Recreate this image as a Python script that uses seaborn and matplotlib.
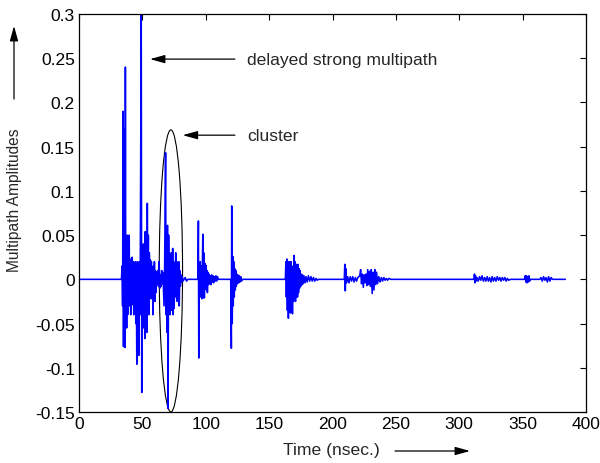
import numpy as np
import pandas as pd
import matplotlib
matplotlib.use("Agg")
import matplotlib.pyplot as plt
import seaborn as sns
from matplotlib.patches import Ellipse

# ---------------- data ----------------
# first arrivals + strong delayed multipath (ns, amplitude)
c1_t = [0.0, 33.5, 34.0, 34.4, 34.8, 35.1, 35.4, 35.7, 36.0, 36.3, 36.6, 36.9, 37.2, 37.6, 38.0,
        38.4, 38.8, 39.2, 39.6, 40.0, 40.4, 40.8, 41.2, 41.6, 42.0, 42.4, 42.8, 43.2, 43.6,
        44.0, 44.4, 44.8, 45.2, 45.6, 46.0, 46.4, 46.8, 47.2, 47.6, 48.2, 49.1, 49.5, 49.9,
        50.3, 50.7, 51.1, 51.5, 51.9, 52.3, 52.7, 53.1, 53.5, 53.9, 54.3, 54.7, 55.1, 55.5,
        55.9, 56.3, 56.7, 57.1, 57.5, 57.9, 58.3, 58.7, 59.1, 59.5, 59.9, 60.3, 60.7, 61.2,
        61.7, 62.2, 62.7, 63.2, 63.7, 64.2, 64.7, 65.2, 65.7, 66.2]
c1_a = [0.0, 0.0, 0.015, -0.03, 0.19, -0.076, 0.17, -0.02, 0.16, -0.077, 0.24, -0.05, 0.03, -0.055, 0.05,
        -0.04, 0.02, -0.02, 0.05, -0.03, 0.023, -0.04, 0.02, -0.029, 0.025, -0.015, 0.02, -0.04, 0.015,
        -0.025, 0.02, -0.05, 0.01, -0.096, 0.02, -0.07, 0.015, -0.086, 0.02, -0.04, 0.30, -0.128, 0.02,
        -0.03, 0.04, -0.055, 0.03, -0.067, 0.054, -0.03, 0.045, -0.06, 0.086, -0.02, 0.05, -0.04, 0.03,
        -0.02, 0.022, -0.022, 0.02, -0.018, 0.01, -0.04, 0.015, -0.01, 0.02, -0.025, 0.01, -0.015, 0.008,
        -0.005, 0.01, -0.008, 0.02, -0.01, 0.005, -0.008, 0.01, -0.005, 0.008]
# the cluster (inside the ellipse)
c2_t = [67.1, 67.6, 68.3, 68.7, 69.1, 69.5, 69.8, 70.3, 70.7, 71.1, 71.5, 71.9, 72.3, 72.7,
        73.1, 73.5, 73.9, 74.3, 74.7, 75.1, 75.5, 75.9, 76.3, 76.7, 77.1, 77.5, 77.9, 78.3,
        78.7, 79.1, 79.5, 80.0, 80.5, 81.0, 81.5, 82.0, 83.8, 84.8, 85.8]
c2_a = [-0.03, 0.02, 0.143, -0.04, 0.03, -0.06, 0.061, -0.146, 0.05, -0.03, 0.03, -0.04, 0.02, -0.035,
        0.03, -0.02, 0.035, -0.04, 0.02, -0.033, 0.016, -0.02, 0.03, -0.015, 0.02, -0.025, 0.015, -0.01,
        0.02, -0.03, 0.01, -0.008, 0.005, -0.003, 0.003, -0.002, 0.002, -0.002, 0.0]
# arrivals near 95 ns
c3_t = [93.8, 94.2, 94.5, 94.9, 95.3, 95.7, 96.1, 96.5, 96.9, 97.3, 97.7, 98.1, 98.5, 98.9,
        99.3, 99.7, 100.1, 100.5, 100.9, 101.3, 101.7, 102.1, 102.6, 103.1, 103.6, 104.1, 104.6,
        105.1, 105.7, 106.2, 106.8, 107.4, 108.0, 108.6, 109.2, 110.2]
c3_a = [0.0, 0.066, -0.089, 0.01, -0.01, 0.02, -0.02, 0.015, -0.022, 0.01, 0.051, -0.021, 0.03, -0.021,
        0.018, -0.01, 0.016, -0.012, 0.01, -0.015, 0.008, -0.006, 0.006, -0.005, 0.004, -0.006, 0.005,
        -0.003, 0.004, -0.004, 0.003, -0.002, 0.004, -0.002, 0.003, 0.0]
# arrivals near 120 ns
c4_t = [119.7, 120.2, 120.5, 120.9, 121.3, 121.7, 122.1, 122.5, 122.9, 123.3, 123.7, 124.1,
        124.5, 124.9, 125.4, 125.9, 126.4, 127.0, 127.6, 128.2, 129.2]
c4_a = [0.0, -0.078, 0.083, -0.05, 0.026, -0.03, 0.02, -0.02, 0.012, -0.012, 0.01, -0.008,
        0.006, -0.005, 0.005, -0.004, 0.004, -0.003, 0.003, -0.002, 0.0]
# cluster near 165-190 ns
c5_t = [162.8, 163.2, 163.6, 164.0, 164.4, 164.8, 165.2, 165.6, 166.0, 166.4, 166.8, 167.2,
        167.6, 168.0, 168.4, 168.8, 169.2, 169.6, 170.0, 170.4, 170.8, 171.2, 171.6, 172.0,
        172.4, 172.8, 173.2, 173.6, 174.0, 174.4, 174.8, 175.3, 175.8, 176.3, 176.8, 177.5,
        178.3, 179.1, 180.0, 181.0, 182.0, 183.0, 184.0, 185.0, 186.0, 187.0, 188.0, 189.0]
c5_a = [0.0, 0.02, -0.02, 0.023, -0.035, 0.018, -0.044, 0.02, -0.03, 0.015, -0.038, 0.02,
        -0.015, 0.01, -0.039, 0.015, -0.025, 0.027, -0.02, 0.02, -0.025, 0.017, -0.02, 0.015,
        -0.02, 0.017, -0.015, 0.012, -0.01, 0.01, -0.008, 0.006, -0.006, 0.005, -0.005, 0.004,
        -0.004, 0.003, -0.003, 0.004, -0.002, 0.003, -0.002, 0.002, -0.002, 0.001, -0.001, 0.0]
# arrivals near 210-245 ns
c6_t = [209.3, 209.7, 210.1, 210.5, 211.0, 212.0, 213.0, 214.0, 215.0, 216.0, 217.0, 218.0,
        219.0, 220.0, 221.5, 222.2, 222.9, 223.6, 224.3, 225.0, 225.7, 226.4, 227.1, 227.8,
        228.5, 229.2, 229.9, 230.6, 231.3, 232.0, 232.7, 233.4, 234.1, 234.8, 235.5, 236.5,
        237.5, 238.5, 239.5, 240.5, 241.5, 242.5, 243.5, 244.5, 246.0]
c6_a = [0.0, 0.017, -0.013, 0.012, -0.004, 0.003, -0.004, 0.003, -0.002, 0.003, -0.003, 0.002,
        -0.002, 0.002, 0.004, 0.011, -0.005, 0.006, -0.009, 0.005, -0.004, 0.006, -0.007, 0.011,
        -0.006, 0.009, -0.008, 0.011, -0.016, 0.008, -0.012, 0.011, -0.006, 0.008, -0.005, 0.003,
        -0.003, 0.002, -0.002, 0.002, -0.001, 0.001, -0.001, 0.001, 0.0]
# late weak arrivals 310-373 ns, line ends at ~384 ns
c7_t = [311.6, 312.0, 312.4, 312.8, 313.4, 314.0, 315.0, 316.0, 317.0, 318.0, 319.0, 320.0,
        321.0, 322.0, 323.0, 324.0, 325.0, 326.0, 327.0, 328.0, 329.0, 330.0, 331.0, 332.0,
        333.0, 334.0, 335.0, 336.0, 337.0, 338.0, 339.0, 340.5, 351.5, 352.0, 352.5, 353.0,
        353.5, 354.0, 354.5, 355.0, 355.5, 356.0, 363.5, 364.5, 365.5, 366.5, 367.5, 368.5,
        369.5, 370.5, 371.5, 372.5, 373.5, 383.7]
c7_a = [0.0, 0.006, -0.004, 0.004, -0.002, 0.002, -0.002, 0.003, -0.001, 0.004, -0.002, 0.002,
        -0.002, 0.003, -0.002, 0.002, -0.003, 0.003, -0.002, 0.002, -0.002, 0.003, -0.001, 0.002,
        -0.002, 0.002, -0.001, 0.002, -0.002, 0.001, -0.001, 0.0, 0.0, 0.004, -0.003, 0.004,
        -0.004, 0.003, -0.003, 0.004, -0.002, 0.0, 0.0, 0.002, -0.002, 0.003, -0.001, 0.002,
        -0.003, 0.003, -0.002, 0.002, 0.0, 0.0]

x_ticks = [0, 50, 100, 150, 200, 250, 300, 350, 400]
y_ticks = [-0.15, -0.1, -0.05, 0, 0.05, 0.1, 0.15, 0.2, 0.25, 0.3]
y_tick_labels = ["-0.15", "-0.1", "-0.05", "0", "0.05", "0.1", "0.15", "0.2", "0.25", "0.3"]

# ---------------- plot ----------------
sns.set_style("white")
plt.rcParams["font.family"] = ["Liberation Sans", "DejaVu Sans"]

t_all = c1_t + c2_t + c3_t + c4_t + c5_t + c6_t + c7_t
a_all = c1_a + c2_a + c3_a + c4_a + c5_a + c6_a + c7_a
df = pd.DataFrame({"time": t_all, "amp": a_all})

fig = plt.figure(figsize=(6.0, 4.64), dpi=100)
ax = fig.add_axes([79 / 600, 1 - 413 / 464, (586 - 79) / 600, (413 - 15) / 464])
sns.lineplot(data=df, x="time", y="amp", ax=ax, sort=False, estimator=None,
             color="#0000ff", linewidth=1.15)

ax.set_xlim(0, 400)
ax.set_ylim(-0.15, 0.3)
ax.set_xticks(x_ticks)
ax.set_xticklabels([str(v) for v in x_ticks])
ax.set_yticks(y_ticks)
ax.set_yticklabels(y_tick_labels)
ax.tick_params(direction="in", top=True, right=True, length=4, width=0.8,
               labelsize=12.5, colors="black", pad=3)
for s in ax.spines.values():
    s.set_color("black")
    s.set_linewidth(0.9)
ax.set_xlabel("")
ax.set_ylabel("")

# ellipse marking the cluster
ax.add_patch(Ellipse((72.5, 0.0095), 18.4, 0.319, fill=False,
                     edgecolor="black", linewidth=0.8))

arrow_kw = dict(arrowstyle="-|>,head_length=0.9,head_width=0.25", color="black",
                lw=0.9, shrinkA=0, shrinkB=0)
ax.annotate("", xy=(56.0, 0.249), xytext=(123.0, 0.249), arrowprops=arrow_kw)
ax.text(132.5, 0.2483, "delayed strong multipath", fontsize=12.6, va="center", ha="left")
ax.annotate("", xy=(81.8, 0.163), xytext=(123.0, 0.163), arrowprops=arrow_kw)
ax.text(132.5, 0.1624, "cluster", fontsize=12.6, va="center", ha="left")

# axis labels with arrows
fig.text(331.5 / 600, 1 - 450.7 / 464, "Time (nsec.)", fontsize=12.6, ha="center", va="center")
fig.text(15 / 600, 1 - 200 / 464, "Multipath Amplitudes", fontsize=11.2,
         ha="center", va="center", rotation=90)
ax.annotate("", xy=(470 / 600, 1 - 452 / 464), xytext=(395 / 600, 1 - 452 / 464),
            xycoords="figure fraction", textcoords="figure fraction",
            arrowprops=arrow_kw, annotation_clip=False)
ax.annotate("", xy=(14 / 600, 1 - 27 / 464), xytext=(14 / 600, 1 - 100 / 464),
            xycoords="figure fraction", textcoords="figure fraction",
            arrowprops=arrow_kw, annotation_clip=False)

fig.savefig("out.png", dpi=100, facecolor="white")
